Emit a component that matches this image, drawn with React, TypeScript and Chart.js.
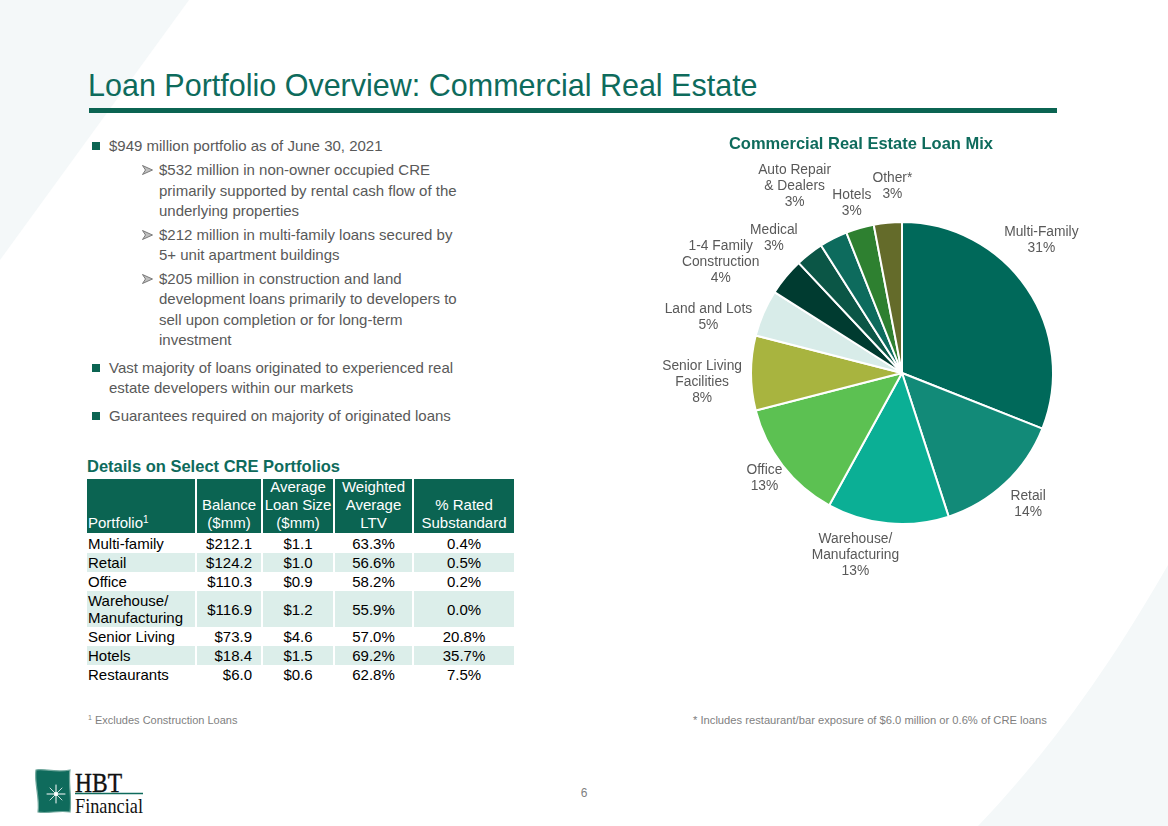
import React, { useEffect, useRef } from "react";
import { Chart, registerables } from "chart.js";

Chart.register(...registerables);

// ---- Commercial Real Estate loan mix (share of CRE portfolio, %) ----
const mixLabels: string[][] = [
  ["Multi-Family"],
  ["Retail"],
  ["Warehouse/", "Manufacturing"],
  ["Office"],
  ["Senior Living", "Facilities"],
  ["Land and Lots"],
  ["1-4 Family", "Construction"],
  ["Medical"],
  ["Auto Repair", "& Dealers"],
  ["Hotels"],
  ["Other*"],
];
const mixShares: number[] = [31, 14, 13, 13, 8, 5, 4, 3, 3, 3, 3];
const mixColors: string[] = [
  "#00695A",
  "#128A78",
  "#0BAF95",
  "#5CC152",
  "#A8B43F",
  "#D8ECE9",
  "#003B30",
  "#0B5646",
  "#0D6B5D",
  "#2E8030",
  "#646B2A",
];
// fine placement of each slice label relative to its automatic outside position
const labelNudge: [number, number][] = [
  [-25, -21],
  [1, -2],
  [-29, -4],
  [7, -7],
  [-1, 9],
  [-5, 26],
  [-24, 19],
  [-14, 12],
  [-18, -11],
  [0, 3],
  [7, -11],
];

// ---- Details on select CRE portfolios ----
const tablePortfolios: string[][] = [
  ["Multi-family"],
  ["Retail"],
  ["Office"],
  ["Warehouse/", "Manufacturing"],
  ["Senior Living"],
  ["Hotels"],
  ["Restaurants"],
];
const tableBalance: number[] = [212.1, 124.2, 110.3, 116.9, 73.9, 18.4, 6.0];
const tableAvgLoanSize: number[] = [1.1, 1.0, 0.9, 1.2, 4.6, 1.5, 0.6];
const tableLtv: number[] = [63.3, 56.6, 58.2, 55.9, 57.0, 69.2, 62.8];
const tableSubstandard: number[] = [0.4, 0.5, 0.2, 0.0, 20.8, 35.7, 7.5];

const FONT = "'Liberation Sans', Arial, Helvetica, sans-serif";
const TEAL = "#0B6452";
const TITLE_TEAL = "#0E6B5C";
const GRAY = "#595959";
const LIGHT_ROW = "#DCEEEA";

const sliceLabelPlugin = {
  id: "sliceLabels",
  afterDatasetsDraw(chart: any) {
    const ctx: CanvasRenderingContext2D = chart.ctx;
    const meta = chart.getDatasetMeta(0);
    const lh = 16;
    ctx.save();
    ctx.font = `13.8px ${FONT}`;
    ctx.fillStyle = GRAY;
    ctx.textAlign = "center";
    ctx.textBaseline = "middle";
    meta.data.forEach((arc: any, i: number) => {
      const { x, y, startAngle, endAngle, outerRadius } = arc.getProps(
        ["x", "y", "startAngle", "endAngle", "outerRadius"],
        true
      );
      const mid = (startAngle + endAngle) / 2;
      const lines = [...mixLabels[i], `${mixShares[i]}%`];
      const w = Math.max(...lines.map((l) => ctx.measureText(l).width));
      const h = lines.length * lh;
      const ext = (Math.abs(Math.cos(mid)) * w) / 2 + (Math.abs(Math.sin(mid)) * h) / 2;
      const d = outerRadius + 8 + ext;
      const cx = x + Math.cos(mid) * d + labelNudge[i][0];
      const cy = y + Math.sin(mid) * d + labelNudge[i][1];
      lines.forEach((l, k) => {
        ctx.fillText(l, cx, cy + (k - (lines.length - 1) / 2) * lh);
      });
    });
    ctx.restore();
  },
};

function LoanMixPie() {
  const ref = useRef<HTMLCanvasElement | null>(null);
  useEffect(() => {
    if (!ref.current) return;
    const chart = new Chart(ref.current, {
      type: "pie",
      data: {
        labels: mixLabels.map((l) => l.join(" ")),
        datasets: [
          {
            data: mixShares,
            backgroundColor: mixColors,
            borderColor: "#FFFFFF",
            borderWidth: 2,
            radius: 151,
          } as any,
        ],
      },
      options: {
        responsive: false,
        animation: false,
        layout: { padding: 0 },
        plugins: {
          legend: { display: false },
          tooltip: { enabled: false },
          title: { display: false },
        },
      },
      plugins: [sliceLabelPlugin],
    });
    return () => chart.destroy();
  }, []);
  return (
    <canvas
      ref={ref}
      width={500}
      height={500}
      style={{ position: "absolute", left: 652, top: 123, width: 500, height: 500 }}
    />
  );
}

function Bullets() {
  type Line = { y: number; text: string; kind?: "main" | "sub" };
  const lines: Line[] = [
    { y: 146, text: "$949 million portfolio as of June 30, 2021", kind: "main" },
    { y: 170, text: "$532 million in non-owner occupied CRE", kind: "sub" },
    { y: 191, text: "primarily supported by rental cash flow of the" },
    { y: 211, text: "underlying properties" },
    { y: 235, text: "$212 million in multi-family loans secured by", kind: "sub" },
    { y: 255, text: "5+ unit apartment buildings" },
    { y: 279, text: "$205 million in construction and land", kind: "sub" },
    { y: 299, text: "development loans primarily to developers to" },
    { y: 320, text: "sell upon completion or for long-term" },
    { y: 340, text: "investment" },
    { y: 368, text: "Vast majority of loans originated to experienced real", kind: "main" },
    { y: 388, text: "estate developers within our markets" },
    { y: 416, text: "Guarantees required on majority of originated loans", kind: "main" },
  ];
  let indent = 109;
  return (
    <>
      {lines.map((l, i) => {
        if (l.kind === "main") indent = 109;
        if (l.kind === "sub") indent = 159;
        const left = indent;
        return (
          <React.Fragment key={i}>
            {l.kind === "main" && (
              <div
                style={{
                  position: "absolute",
                  left: 92,
                  top: l.y - 4,
                  width: 8,
                  height: 8,
                  background: TEAL,
                }}
              />
            )}
            {l.kind === "sub" && (
              <svg
                style={{ position: "absolute", left: 142, top: l.y - 5 }}
                width={11}
                height={10}
                viewBox="0 0 11 10"
              >
                <path d="M0.5 0.5 L10.5 5 L0.5 9.5 L3.5 5 Z" fill="#BFBFBF" stroke="#6F6F6F" strokeWidth={0.9} />
              </svg>
            )}
            <div
              style={{
                position: "absolute",
                left,
                top: l.y - 10,
                height: 20,
                lineHeight: "20px",
                fontSize: 15,
                color: GRAY,
                whiteSpace: "nowrap",
              }}
            >
              {l.text}
            </div>
          </React.Fragment>
        );
      })}
    </>
  );
}

function PortfolioTable() {
  const colX = [87, 197, 263, 335, 414, 514];
  const headerTop = 479;
  const headerBottom = 533;
  const rowHeights = [19, 19, 19, 36, 19, 19, 19];
  const headers: string[][] = [
    ["Portfolio"],
    ["Balance", "($mm)"],
    ["Average", "Loan Size", "($mm)"],
    ["Weighted", "Average", "LTV"],
    ["% Rated", "Substandard"],
  ];
  const cells: React.ReactNode[] = [];

  // header band
  headers.forEach((h, c) => {
    const left = colX[c];
    const width = colX[c + 1] - colX[c] - (c < 4 ? 2 : 0);
    cells.push(
      <div
        key={`h${c}`}
        style={{
          position: "absolute",
          left,
          top: headerTop,
          width,
          height: headerBottom - headerTop,
          background: TEAL,
          color: "#FFFFFF",
          fontSize: 15,
          lineHeight: "18px",
          display: "flex",
          flexDirection: "column",
          justifyContent: "flex-end",
          alignItems: c === 0 ? "flex-start" : "center",
          paddingLeft: c === 0 ? 1 : 0,
          boxSizing: "border-box",
          paddingBottom: 1,
          whiteSpace: "nowrap",
        }}
      >
        {h.map((t, k) => (
          <div key={k}>
            {t}
            {c === 0 && <sup style={{ fontSize: 10, verticalAlign: "5px", lineHeight: 0 }}>1</sup>}
          </div>
        ))}
      </div>
    );
  });

  let y = headerBottom + 1;
  tablePortfolios.forEach((name, r) => {
    const h = rowHeights[r];
    const shaded = r % 2 === 1;
    const values = [
      `$${tableBalance[r].toFixed(1)}`,
      `$${tableAvgLoanSize[r].toFixed(1)}`,
      `${tableLtv[r].toFixed(1)}%`,
      `${tableSubstandard[r].toFixed(1)}%`,
    ];
    for (let c = 0; c < 5; c++) {
      const left = colX[c];
      const width = colX[c + 1] - colX[c] - (c < 4 ? 2 : 0);
      const content = c === 0 ? name : [values[c - 1]];
      cells.push(
        <div
          key={`r${r}c${c}`}
          style={{
            position: "absolute",
            left,
            top: y,
            width,
            height: h,
            background: shaded ? LIGHT_ROW : "transparent",
            color: "#000000",
            fontSize: 15,
            lineHeight: "17px",
            display: "flex",
            flexDirection: "column",
            justifyContent: "center",
            alignItems: c === 0 ? "flex-start" : c === 1 ? "flex-end" : "center",
            paddingLeft: c === 0 ? 1 : 0,
            paddingRight: c === 1 ? 9 : 0,
            boxSizing: "border-box",
            whiteSpace: "nowrap",
          }}
        >
          {content.map((t, k) => (
            <div key={k}>{t}</div>
          ))}
        </div>
      );
    }
    y += h;
  });

  return (
    <>
      <div
        style={{
          position: "absolute",
          left: 87,
          top: 456,
          fontSize: 16.5,
          lineHeight: "20px",
          fontWeight: "bold",
          color: TITLE_TEAL,
          whiteSpace: "nowrap",
        }}
      >
        Details on Select CRE Portfolios
      </div>
      {cells}
    </>
  );
}

function Logo() {
  return (
    <svg
      style={{ position: "absolute", left: 30, top: 764 }}
      width={120}
      height={54}
      viewBox="0 0 120 54"
    >
      <path
        d="M6 6 C14 4, 24 9, 40 6 C38 18, 42 34, 40 48 C28 46, 18 50, 8 48 C10 34, 4 18, 6 6 Z"
        fill="#0F6B5C"
        stroke="#6FA79C"
        strokeWidth={1.2}
      />
      <g stroke="#FFFFFF" strokeLinecap="round">
        <line x1={17} y1={30} x2={35} y2={30} strokeWidth={1} />
        <line x1={26} y1={21} x2={26} y2={39} strokeWidth={1} />
        <line x1={20} y1={24} x2={32} y2={36} strokeWidth={0.8} />
        <line x1={32} y1={24} x2={20} y2={36} strokeWidth={0.8} />
      </g>
      <circle cx={26} cy={30} r={2} fill="#FFFFFF" />
      <text
        x={45}
        y={28}
        fontFamily="'Liberation Serif', 'Times New Roman', serif"
        fontSize={28}
        textLength={47}
        lengthAdjust="spacingAndGlyphs"
        fill="#111111"
        stroke="#111111"
        strokeWidth={0.4}
      >
        HBT
      </text>
      <line x1={45} y1={29.5} x2={113} y2={29.5} stroke="#0F6B5C" strokeWidth={1.3} />
      <text
        x={45}
        y={49}
        fontFamily="'Liberation Serif', 'Times New Roman', serif"
        fontSize={22}
        textLength={68}
        lengthAdjust="spacingAndGlyphs"
        fill="#111111"
      >
        Financial
      </text>
    </svg>
  );
}

export default function App() {
  return (
    <div
      style={{
        position: "fixed",
        left: 0,
        top: 0,
        width: 1168,
        height: 826,
        background: "#FFFFFF",
        overflow: "hidden",
        fontFamily: FONT,
      }}
    >
      {/* soft background panels */}
      <svg style={{ position: "absolute", left: 0, top: 0 }} width={1168} height={826}>
        <path d="M0 0 L189 0 L0 260 Z" fill="#F4F8F9" />
        <path d="M1168 565 C1125 640, 1065 735, 978 826 L1168 826 Z" fill="#F4F8F9" />
      </svg>

      <div
        style={{
          position: "absolute",
          left: 88,
          top: 67,
          fontSize: 30.5,
          lineHeight: "36px",
          color: TITLE_TEAL,
          whiteSpace: "nowrap",
        }}
      >
        Loan Portfolio Overview: Commercial Real Estate
      </div>
      <div style={{ position: "absolute", left: 89, top: 108, width: 968, height: 5, background: TEAL }} />

      <Bullets />
      <PortfolioTable />

      <LoanMixPie />
      <div
        style={{
          position: "absolute",
          left: 861 - 200,
          top: 133,
          width: 400,
          textAlign: "center",
          fontSize: 16.5,
          lineHeight: "20px",
          fontWeight: "bold",
          color: TITLE_TEAL,
        }}
      >
        Commercial Real Estate Loan Mix
      </div>

      <div
        style={{
          position: "absolute",
          left: 88,
          top: 713,
          fontSize: 11,
          lineHeight: "14px",
          color: "#7F7F7F",
          whiteSpace: "nowrap",
        }}
      >
        <sup style={{ fontSize: 7, verticalAlign: "4px", lineHeight: 0 }}>1</sup> Excludes Construction Loans
      </div>
      <div
        style={{
          position: "absolute",
          left: 693,
          top: 713,
          fontSize: 11.2,
          lineHeight: "14px",
          color: "#7F7F7F",
          whiteSpace: "nowrap",
        }}
      >
        * Includes restaurant/bar exposure of $6.0 million or 0.6% of CRE loans
      </div>

      <div
        style={{
          position: "absolute",
          left: 578,
          top: 786,
          width: 12,
          textAlign: "center",
          fontSize: 12,
          lineHeight: "14px",
          color: "#7F7F7F",
        }}
      >
        6
      </div>

      <Logo />
    </div>
  );
}
